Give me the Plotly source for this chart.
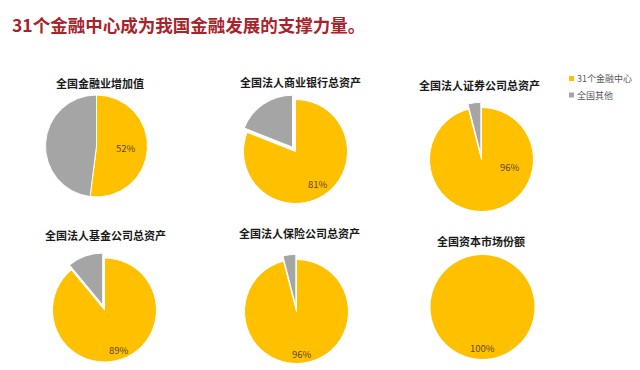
import math
import plotly.graph_objects as go

# ---------------- data ----------------
main_title = "31个金融中心成为我国金融发展的支撑力量。"
chart_titles = ["全国金融业增加值", "全国法人商业银行总资产", "全国法人证券公司总资产",
                "全国法人基金公司总资产", "全国法人保险公司总资产", "全国资本市场份额"]
series_names = ["31个金融中心", "全国其他"]
center_share = [52, 81, 96, 89, 96, 100]   # 31个金融中心 (%)
other_share = [48, 19, 4, 11, 4, 0]        # 全国其他 (%)

# ---------------- style / layout ----------------
W, H = 640, 370
COLORS = ["#FFC000", "#A5A5A5"]
FONT = "Noto Sans CJK SC"

# pie centre / radius (px), pull of the "other" slice, title centre, label radius fraction, label angle override
pie_layout = [
    dict(cx=88.5, cy=138.0, r=51, pull=0.0, tx=92, ty=75, lr=0.57, la=None),
    dict(cx=287.5, cy=143.5, r=52, pull=0.1, tx=292, ty=74, lr=0.76, la=None),
    dict(cx=473.5, cy=151.5, r=52, pull=0.1, tx=471, ty=77, lr=0.57, la=105),
    dict(cx=96.5, cy=302.0, r=52, pull=0.1, tx=97, ty=227, lr=0.82, la=None),
    dict(cx=288.5, cy=303.5, r=52, pull=0.1, tx=291, ty=225, lr=0.82, la=None),
    dict(cx=474.5, cy=299.0, r=52, pull=0.0, tx=473, ty=233, lr=0.79, la=None),
]

fig = go.Figure()
annotations = []

def px_x(x):
    return x / W

def px_y(y):
    return 1 - y / H

for i, L in enumerate(pie_layout):
    half = L["r"] * (1 + L["pull"])
    vals = [center_share[i], other_share[i]]
    line_w = 1 if min(vals) > 0 else 0
    fig.add_trace(go.Pie(
        labels=series_names,
        values=vals,
        sort=False,
        direction="clockwise",
        rotation=0,
        pull=[0, L["pull"]],
        marker=dict(colors=COLORS, line=dict(color="#FFFFFF", width=line_w)),
        textinfo="none",
        hoverinfo="label+percent",
        showlegend=False,
        domain=dict(x=[px_x(L["cx"] - half), px_x(L["cx"] + half)],
                    y=[px_y(L["cy"] + half), px_y(L["cy"] - half)]),
    ))
    # chart title
    annotations.append(dict(
        text="<b>%s</b>" % chart_titles[i], x=px_x(L["tx"]), y=px_y(L["ty"]),
        xref="paper", yref="paper", xanchor="center", yanchor="middle",
        showarrow=False, font=dict(family=FONT, size=11, color="#1A1A1A")))
    # percentage label of the first slice
    total = sum(vals)
    p = center_share[i] / total
    ang = L["la"] if L["la"] is not None else 180 * p
    a = math.radians(ang)
    lx = L["cx"] + L["lr"] * L["r"] * math.sin(a)
    ly = L["cy"] - L["lr"] * L["r"] * math.cos(a)
    annotations.append(dict(
        text="%d%%" % round(100 * p), x=px_x(lx), y=px_y(ly),
        xref="paper", yref="paper", xanchor="center", yanchor="middle",
        showarrow=False, font=dict(family=FONT, size=9.5, color="#5A4A28")))

# main title
annotations.append(dict(
    text="<b>%s</b>" % main_title, x=px_x(2), y=px_y(17),
    xref="paper", yref="paper", xanchor="left", yanchor="middle",
    showarrow=False, font=dict(family=FONT, size=17.5, color="#A8232A")))

# legend (swatches + text)
shapes = []
leg_rows = [70.5, 87.0]
for k, name in enumerate(series_names):
    yc = leg_rows[k]
    shapes.append(dict(type="rect", xref="paper", yref="paper",
                       x0=px_x(561), x1=px_x(566), y0=px_y(yc + 2.5), y1=px_y(yc - 2.5),
                       fillcolor=COLORS[k], line=dict(width=0)))
    annotations.append(dict(
        text=name, x=px_x(567), y=px_y(yc), xref="paper", yref="paper",
        xanchor="left", yanchor="middle", showarrow=False,
        font=dict(family=FONT, size=9, color="#595959")))

fig.update_layout(
    width=W, height=H,
    margin=dict(l=0, r=0, t=0, b=0),
    paper_bgcolor="white", plot_bgcolor="white",
    annotations=annotations, shapes=shapes,
    showlegend=False,
)

fig.write_html("out.html")
